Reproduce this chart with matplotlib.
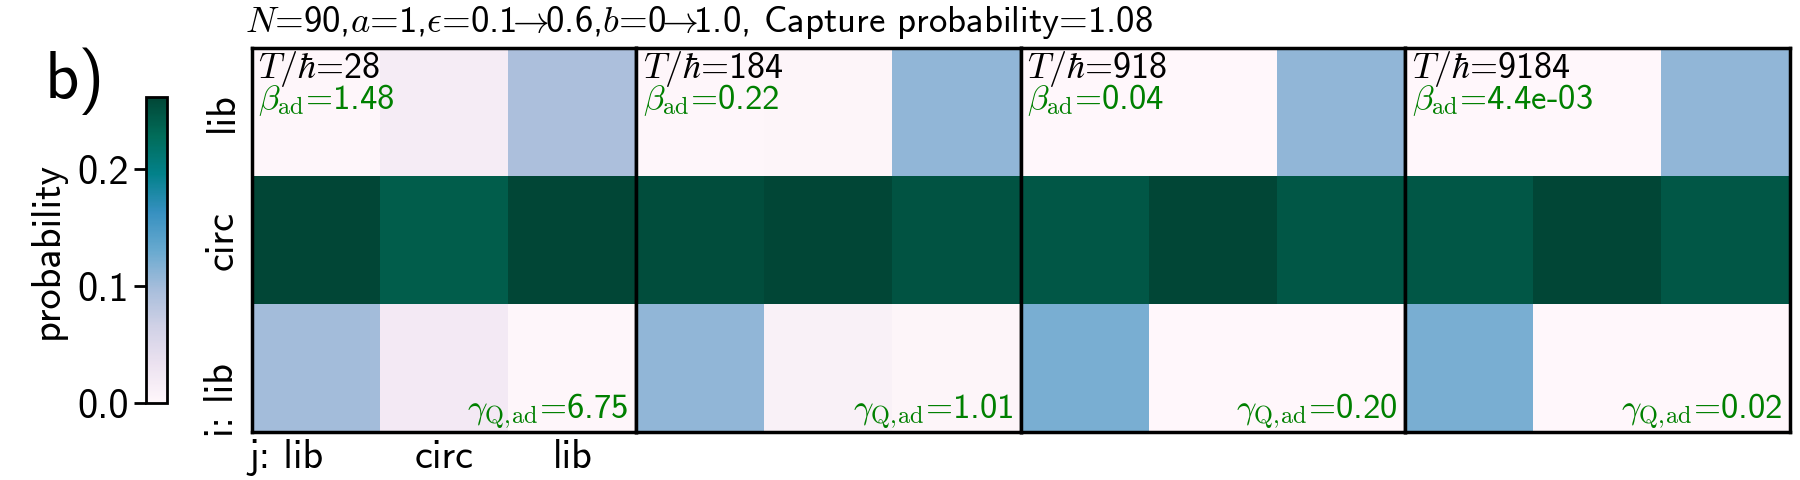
import numpy as np
import matplotlib
matplotlib.use("Agg")
import matplotlib.pyplot as plt
from matplotlib.transforms import ScaledTranslation

plt.rcParams["font.family"] = ["cmss10", "DejaVu Sans"]
plt.rcParams["mathtext.fontset"] = "cm"
plt.rcParams["axes.unicode_minus"] = False
plt.rcParams["axes.formatter.use_mathtext"] = True

# data: rows i = lib, circ, lib (top to bottom); cols j = lib, circ, lib
p_28 = [[0.002, 0.017, 0.094],
        [0.262, 0.241, 0.262],
        [0.100, 0.021, 0.002]]
p_184 = [[0.002, 0.004, 0.109],
         [0.255, 0.262, 0.250],
         [0.109, 0.010, 0.004]]
p_918 = [[0.001, 0.001, 0.109],
         [0.2465, 0.262, 0.2465],
         [0.121, 0.001, 0.001]]
p_9184 = [[0.001, 0.001, 0.109],
          [0.2465, 0.262, 0.2465],
          [0.121, 0.001, 0.001]]
panels = [p_28, p_184, p_918, p_9184]

T_vals = ["28", "184", "918", "9184"]
beta_vals = ["1.48", "0.22", "0.04", "4.4e-03"]
gamma_vals = ["6.75", "1.01", "0.20", "0.02"]
row_labels = ["lib", "circ", "i: lib"]
col_labels = ["j: lib", "circ", "lib"]

vmax = 0.262
fs = 25      # panel annotations
fs_tk = 29   # ticks, labels

fig = plt.figure(figsize=(18, 4.8), dpi=100)
left, right, bottom, top = 0.140, 0.9944, 0.1, 0.9
w = (right - left) / 4

for k, data in enumerate(panels):
    ax = fig.add_axes([left + k * w, bottom, w, top - bottom])
    im = ax.imshow(np.array(data), cmap="PuBuGn", vmin=0, vmax=vmax,
                   aspect="auto", interpolation="nearest")
    for s in ax.spines.values():
        s.set_linewidth(2.5)
        s.set_color("black")
    ax.tick_params(length=0)
    if k == 0:
        ax.set_yticks(range(3))
        ax.set_yticklabels(row_labels, rotation=90, va="center", fontsize=fs_tk)
        ax.set_xticks(range(3))
        ax.set_xticklabels(col_labels, fontsize=fs_tk)
        ax.tick_params(axis="y", pad=8)
        ax.tick_params(axis="x", pad=5)
        # shift the "j: lib" / "i: lib" labels so that "lib" sits near the cell centre
        lx = ax.get_xticklabels()[0]
        lx.set_transform(lx.get_transform() + ScaledTranslation(-0.30, 0, fig.dpi_scale_trans))
        ly = ax.get_yticklabels()[2]
        ly.set_transform(ly.get_transform() + ScaledTranslation(0, -0.32, fig.dpi_scale_trans))
    else:
        ax.set_xticks([])
        ax.set_yticks([])
    ax.text(0.016, 0.922, r"$T/\hbar$=" + T_vals[k], transform=ax.transAxes,
            fontsize=fs + 1, ha="left", va="baseline")
    ax.text(0.016, 0.842, r"$\beta_{\rm ad}$=" + beta_vals[k],
            transform=ax.transAxes, fontsize=fs, color="green",
            ha="left", va="baseline")
    ax.text(0.979, 0.034, r"$\gamma_{\rm Q,\!ad}$=" + gamma_vals[k],
            transform=ax.transAxes, fontsize=fs, color="green",
            ha="right", va="baseline")

cax = fig.add_axes([0.0811, 0.1604, 0.0117, 0.6375])
cb = fig.colorbar(im, cax=cax, ticks=[0.0, 0.1, 0.2], format="%.1f")
cb.outline.set_linewidth(2)
cax.yaxis.set_ticks_position("left")
cax.yaxis.set_label_position("left")
cax.tick_params(labelsize=fs_tk, width=2, length=9)
cb.set_label("probability", fontsize=fs_tk, labelpad=8)

fig.text(0.136, 0.933,
         r"$N$=90,$a$=1,$\epsilon$=0.1$\!\!\rightarrow\!\!$0.6,$b$=0$\!\!\rightarrow\!\!$1.0,"
         " Capture probability=1.08", fontsize=26.5, ha="left", va="baseline")
fig.text(0.025, 0.83, "b)", fontsize=48, ha="left", va="center")

fig.savefig("out.png", dpi=100)
